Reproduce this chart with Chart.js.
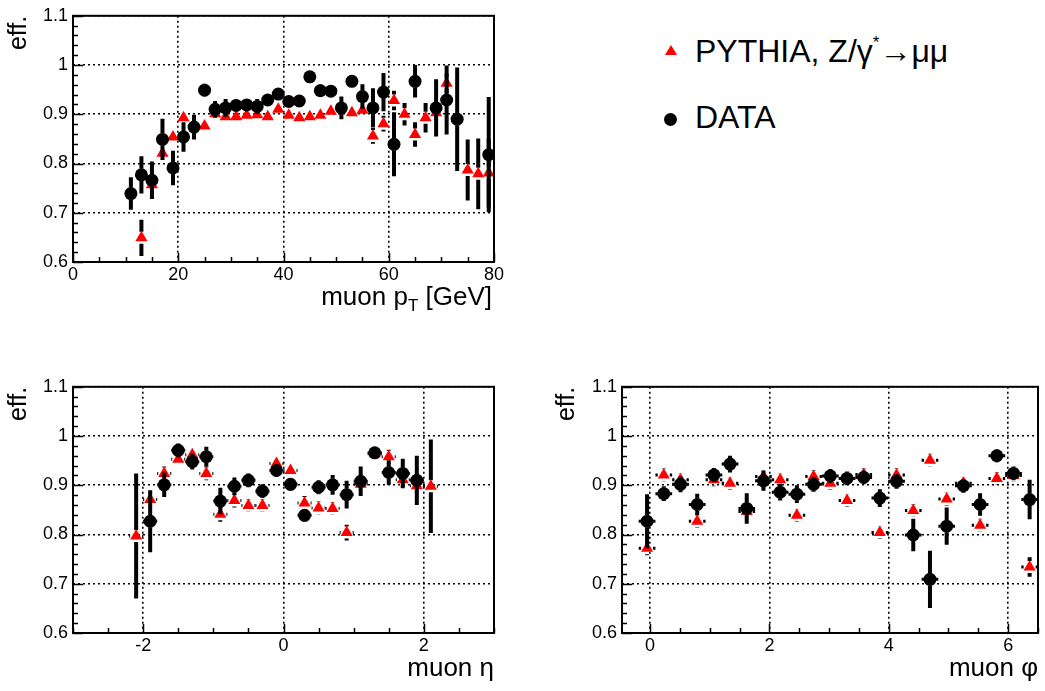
<!DOCTYPE html>
<html>
<head>
<meta charset="utf-8">
<script src="https://cdn.jsdelivr.net/npm/chart.js@4.4.1/dist/chart.umd.min.js"></script>
<style>
  body { margin: 0; background: #fff; width: 1045px; height: 691px; position: relative; overflow: hidden;
         font-family: "Liberation Sans", Arial, sans-serif; color: #000; }
  .panel { position: absolute; }
  .panel canvas { display: block; }
  .leg { position: absolute; font-size: 32px; line-height: 32px; white-space: nowrap; }
  .leg sup { font-size: 17px; vertical-align: 14px; line-height: 0; }
  .tri { position: absolute; width: 0; height: 0; border-left: 6px solid transparent;
         border-right: 6px solid transparent; border-bottom: 10px solid #ff0000; }
  .dot { position: absolute; width: 13px; height: 13px; border-radius: 50%; background: #000; }
  .xt { position: absolute; font-size: 26px; line-height: 26px; white-space: nowrap; }
  .xt sub { font-size: 17px; vertical-align: -6px; line-height: 0; }
</style>
</head>
<body>

<div class="panel" style="left:0;top:0"><canvas id="cPt" width="510" height="320"></canvas></div>
<div class="panel" style="left:0;top:371px"><canvas id="cEta" width="510" height="320"></canvas></div>
<div class="panel" style="left:548px;top:371px"><canvas id="cPhi" width="497" height="320"></canvas></div>

<div class="xt" style="right:553px;top:283px">muon p<sub>T</sub> [GeV]</div>

<div class="tri" style="left:665px;top:45px"></div>
<div class="leg" style="left:695px;top:35px">PYTHIA, Z/γ<sup>*</sup>→μμ</div>
<div class="dot" style="left:664px;top:113px"></div>
<div class="leg" style="left:695px;top:101px">DATA</div>

<script>
// ── values ────────────────────────────────────────────────────────────
const effTicks = [0.6, 0.7, 0.8, 0.9, 1.0, 1.1];

// muon pT, 2 GeV bins
const ptTicks = [0, 20, 40, 60, 80];
const ptHalfBin = 1;
const ptBins = [11, 13, 15, 17, 19, 21, 23, 25, 27, 29, 31, 33, 35, 37, 39, 41, 43, 45,
                47, 49, 51, 53, 55, 57, 59, 61, 63, 65, 67, 69, 71, 73, 75, 77, 79];
const ptData = [0.739, 0.777, 0.766, 0.849, 0.791, 0.854, 0.874, 0.949, 0.910, 0.913,
                0.918, 0.919, 0.916, 0.929, 0.941, 0.926, 0.927, 0.976, 0.948, 0.947,
                0.913, 0.967, 0.936, 0.913, 0.945, 0.839, null, 0.967, null, 0.913,
                0.929, 0.890, null, null, 0.818];
const ptDataErr = [0.033, 0.038, 0.038, 0.042, 0.035, 0.030, 0.025, 0.013, 0.017, 0.018,
                   0.013, 0.012, 0.015, 0.012, 0.008, 0.012, 0.010, 0.007, 0.013, 0.012,
                   0.023, 0.012, 0.025, 0.040, 0.039, 0.065, null, 0.033, null, 0.058,
                   0.070, 0.105, null, null, 0.117];
const ptMC = [null, 0.649, 0.757, 0.821, 0.854, 0.893, null, 0.876, 0.901, 0.895,
              0.895, 0.898, 0.899, 0.895, 0.910, 0.898, 0.893, 0.895, 0.898, 0.906,
              null, 0.903, 0.908, 0.856, 0.881, 0.928, 0.900, 0.859, 0.893, 0.903,
              0.963, null, 0.787, 0.779, 0.781];
const ptMCErr = [null, 0.037, 0.008, 0.008, 0.008, 0.008, null, 0.008, 0.006, 0.006,
                 0.006, 0.006, 0.006, 0.006, 0.006, 0.006, 0.006, 0.006, 0.006, 0.006,
                 null, 0.006, 0.008, 0.016, 0.016, 0.020, 0.023, 0.025, 0.030, 0.015,
                 0.020, null, 0.062, 0.072, 0.070];

// muon eta, 0.2 bins
const etaTicks = [-2, 0, 2];
const etaHalfBin = 0.1;
const etaBins = [-2.1, -1.9, -1.7, -1.5, -1.3, -1.1, -0.9, -0.7, -0.5, -0.3, -0.1,
                 0.1, 0.3, 0.5, 0.7, 0.9, 1.1, 1.3, 1.5, 1.7, 1.9, 2.1];
const etaData = [null, 0.827, 0.901, 0.971, 0.948, 0.958, 0.868, 0.898, 0.910, 0.888, 0.930,
                 0.902, 0.839, 0.896, 0.901, 0.881, 0.908, 0.966, 0.926, 0.924, 0.910, null];
const etaDataErr = [null, 0.063, 0.025, 0.014, 0.016, 0.020, 0.027, 0.018, 0.014, 0.014, 0.013,
                    0.013, 0.013, 0.014, 0.020, 0.028, 0.030, 0.012, 0.025, 0.030, 0.050, null];
const etaMC = [0.797, 0.871, 0.924, 0.953, 0.962, 0.924, 0.841, 0.869, 0.859, 0.859, 0.944,
               0.930, 0.864, 0.854, 0.853, 0.804, 0.902, 0.964, 0.958, 0.911, 0.899, 0.898];
const etaMCErr = [0.127, 0.014, 0.014, 0.012, 0.012, 0.014, 0.015, 0.014, 0.013, 0.013, 0.012,
                  0.012, 0.014, 0.013, 0.013, 0.016, 0.013, 0.012, 0.014, 0.014, 0.014, 0.095];

// muon phi
const phiTicks = [0, 2, 4, 6];
const phiHalfBin = 0.14;
const phiBins = [-0.05, 0.23, 0.51, 0.79, 1.07, 1.34, 1.62, 1.90, 2.18, 2.46, 2.74, 3.02,
                 3.30, 3.58, 3.85, 4.13, 4.41, 4.69, 4.97, 5.25, 5.53, 5.81, 6.09, 6.36];
const phiData = [0.827, 0.883, 0.902, 0.861, 0.921, 0.943, 0.853, 0.909, 0.886, 0.882, 0.902, 0.919,
                 0.914, 0.916, 0.874, 0.908, 0.799, 0.709, 0.817, 0.899, 0.861, 0.960, 0.924, 0.871];
const phiDataErr = [0.055, 0.015, 0.016, 0.022, 0.014, 0.017, 0.031, 0.020, 0.017, 0.018, 0.015, 0.014,
                    0.014, 0.014, 0.018, 0.015, 0.033, 0.058, 0.038, 0.014, 0.023, 0.013, 0.014, 0.040];
const phiMC = [0.772, 0.921, 0.911, 0.827, 0.911, 0.904, 0.847, 0.918, 0.911, 0.839, 0.918, 0.904,
               0.869, 0.922, 0.804, 0.921, 0.849, 0.951, 0.872, 0.904, 0.819, 0.914, 0.920, 0.734];
const phiMCErr = [0.014, 0.013, 0.013, 0.013, 0.013, 0.013, 0.013, 0.013, 0.013, 0.013, 0.013, 0.013,
                  0.013, 0.013, 0.013, 0.013, 0.013, 0.013, 0.013, 0.013, 0.013, 0.013, 0.013, 0.020];

// ── style ─────────────────────────────────────────────────────────────
const FONT = "'Liberation Sans', Arial, sans-serif";
const RED = '#ff0000';
const MARKER_GAP = 6;   // ROOT leaves the marker area free of error lines

// black error bars, drawn just before each dataset's markers
const errorBars = {
  id: 'errorBars',
  beforeDatasetDraw(chart, args, opts) {
    const ds = chart.data.datasets[args.index];
    const { ctx, chartArea: a, scales: { x, y } } = chart;
    const seg = (x1, y1, x2, y2) => { ctx.beginPath(); ctx.moveTo(x1, y1); ctx.lineTo(x2, y2); ctx.stroke(); };
    ctx.save();
    ctx.beginPath(); ctx.rect(a.left, a.top, a.width, a.height); ctx.clip();
    ctx.strokeStyle = '#000';
    ds.data.forEach(p => {
      const px = x.getPixelForValue(p.x), py = y.getPixelForValue(p.y);
      const top = y.getPixelForValue(p.y + p.e), bot = y.getPixelForValue(p.y - p.e);
      const lft = x.getPixelForValue(p.x - opts.xHalf), rgt = x.getPixelForValue(p.x + opts.xHalf);
      ctx.lineWidth = 4;
      if (top < py - MARKER_GAP) seg(px, py - MARKER_GAP, px, top);
      if (bot > py + MARKER_GAP) seg(px, py + MARKER_GAP, px, bot);
      ctx.lineWidth = 3;
      if (lft < px - MARKER_GAP) seg(lft, py, px - MARKER_GAP, py);
      if (rgt > px + MARKER_GAP) seg(px + MARKER_GAP, py, rgt, py);
    });
    ctx.restore();
  }
};

// ROOT-like frame with inner major / minor tick marks
const rootFrame = {
  id: 'rootFrame',
  afterDatasetsDraw(chart, args, o) {
    const { ctx, chartArea: a, scales: { x, y } } = chart;
    const marks = (sc, step, major) => {
      const out = [];
      for (let k = Math.ceil(sc.min / step - 1e-9); k <= Math.floor(sc.max / step + 1e-9); k++) {
        const v = k * step;
        out.push({ v, major: Math.abs(v / major - Math.round(v / major)) < 1e-6 });
      }
      return out;
    };
    ctx.save();
    ctx.strokeStyle = '#000';
    ctx.lineWidth = 1.5;
    ctx.beginPath();
    marks(y, 0.02, 0.1).forEach(m => {
      const py = Math.round(y.getPixelForValue(m.v)) + 0.5;
      ctx.moveTo(a.left, py); ctx.lineTo(a.left + (m.major ? 10 : 5), py);
    });
    marks(x, o.xStep, o.xMajor).forEach(m => {
      const px = Math.round(x.getPixelForValue(m.v)) + 0.5;
      ctx.moveTo(px, a.bottom); ctx.lineTo(px, a.bottom - (m.major ? 9 : 5));
    });
    ctx.stroke();
    ctx.lineWidth = 2;
    ctx.strokeRect(a.left, a.top, a.width, a.height);
    ctx.restore();
  }
};

const series = (xs, ys, es) => xs.map((x, i) => ({ x, y: ys[i], e: es[i] })).filter(p => p.y != null);
const label = v => String(+v.toFixed(2));

function xScale(min, max, ticks, title) {
  return {
    type: 'linear', position: 'bottom', min, max,
    afterBuildTicks: s => { s.ticks = ticks.map(v => ({ value: v })); },
    afterFit: s => { s.height = 58; },
    grid: { color: '#000', lineWidth: 1.6, drawTicks: false },
    border: { display: false, dash: [2, 3] },
    ticks: { color: '#000', font: { family: FONT, size: 18 }, padding: 2, maxRotation: 0, autoSkip: false, callback: label },
    title: title
      ? { display: true, text: title, align: 'end', color: '#000', font: { family: FONT, size: 26 }, padding: { top: 0, bottom: 7 } }
      : { display: false }
  };
}

function yScale(width) {
  return {
    type: 'linear', position: 'left', min: 0.6, max: 1.1,
    afterBuildTicks: s => { s.ticks = effTicks.map(v => ({ value: v })); },
    afterFit: s => { s.width = width; },
    grid: { color: '#000', lineWidth: 1.6, drawTicks: false },
    border: { display: false, dash: [2, 3] },
    ticks: { color: '#000', font: { family: FONT, size: 18 }, padding: 5, autoSkip: false, callback: label },
    title: { display: true, text: 'eff.', align: 'end', color: '#000', font: { family: FONT, size: 25 }, padding: { top: 4, bottom: 0 } }
  };
}

function panel(id, bins, data, dataErr, mc, mcErr, half, xs, frame, yWidth, rightPad) {
  return new Chart(document.getElementById(id), {
    type: 'scatter',
    data: {
      datasets: [
        { label: 'DATA', data: series(bins, data, dataErr), pointStyle: 'circle', pointRadius: 6.5,
          backgroundColor: '#000', borderColor: '#000', borderWidth: 0 },
        { label: 'PYTHIA', data: series(bins, mc, mcErr), pointStyle: 'triangle', pointRadius: 7,
          backgroundColor: RED, borderColor: RED, borderWidth: 0 }
      ]
    },
    options: {
      responsive: false, animation: false, devicePixelRatio: 1,
      layout: { padding: { top: 13, right: rightPad, left: 0, bottom: 0 } },
      plugins: { legend: { display: false }, tooltip: { enabled: false },
                 errorBars: { xHalf: half }, rootFrame: frame },
      scales: { x: xs, y: yScale(yWidth) }
    },
    plugins: [errorBars, rootFrame]
  });
}

panel('cPt', ptBins, ptData, ptDataErr, ptMC, ptMCErr, ptHalfBin,
      xScale(0, 80, ptTicks, null), { xStep: 5, xMajor: 20 }, 73, 16);
panel('cEta', etaBins, etaData, etaDataErr, etaMC, etaMCErr, etaHalfBin,
      xScale(-3, 3, etaTicks, 'muon η'), { xStep: 0.5, xMajor: 2 }, 73, 16);
panel('cPhi', phiBins, phiData, phiDataErr, phiMC, phiMCErr, phiHalfBin,
      xScale(-0.47, 6.5, phiTicks, 'muon φ'), { xStep: 0.5, xMajor: 2 }, 74, 3);
</script>
</body>
</html>
